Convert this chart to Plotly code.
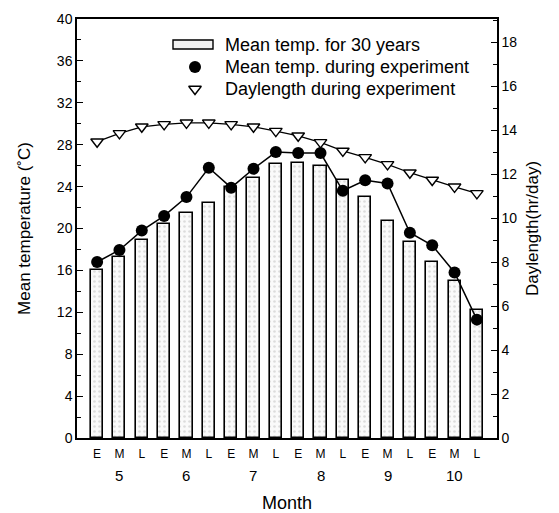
import plotly.graph_objects as go

periods = ["E", "M", "L"] * 6
months = ["5", "6", "7", "8", "9", "10"]
mean30 = [16.0, 17.3, 18.9, 20.4, 21.5, 22.4, 24.0, 24.85, 26.2, 26.3, 26.0, 24.6,
          23.0, 20.75, 18.75, 16.8, 15.0, 12.2]
mean_exp = [16.8, 17.95, 19.8, 21.2, 23.0, 25.8, 23.9, 25.7, 27.3, 27.2, 27.2, 23.6,
            24.6, 24.3, 19.6, 18.4, 15.8, 11.3]
daylen = [13.47, 13.85, 14.15, 14.26, 14.33, 14.33, 14.26, 14.15, 13.95, 13.74, 13.44,
          13.05, 12.76, 12.44, 12.06, 11.73, 11.42, 11.12]
legend_labels = ["Mean temp. for 30 years", "Mean temp. during experiment",
                 "Daylength during experiment"]

idx = list(range(len(periods)))
FONT = "Liberation Sans, Arial, sans-serif"

# page has an 8px body margin: plot area target is x 77..497, y 19..438 on screen
OFF = 8
L, T, R, B = 77 - OFF, 19 - OFF, 62, 75
W, H = 559 - OFF, 513 - OFF


def px(x):
    return (x - 77) / 420


def py(y):
    return (438 - y) / 419


fig = go.Figure()
fig.add_trace(go.Bar(
    x=idx, y=mean30, width=0.54,
    marker=dict(color="white", line=dict(color="black", width=1.6),
                pattern=dict(shape=".", fgcolor="#bdbdbd", bgcolor="#fafafa", size=5, solidity=0.22)),
    showlegend=False))
fig.add_trace(go.Scatter(
    x=idx, y=mean_exp, mode="lines+markers",
    line=dict(color="black", width=1.5),
    marker=dict(symbol="circle", size=12, color="black"),
    showlegend=False))
fig.add_trace(go.Scatter(
    x=idx, y=daylen, mode="lines+markers", yaxis="y2",
    line=dict(color="black", width=1.3),
    marker=dict(symbol="triangle-down", size=11, color="white", line=dict(color="black", width=1.4)),
    showlegend=False))

# custom legend symbols on a hidden overlay axis (0..1 = plot area)
fig.add_trace(go.Scatter(x=[px(195)], y=[py(67)], xaxis="x3", yaxis="y3",
                         mode="markers", marker=dict(symbol="circle", size=12, color="black"),
                         showlegend=False, hoverinfo="skip"))
fig.add_trace(go.Scatter(x=[px(195)], y=[py(89)], xaxis="x3", yaxis="y3",
                         mode="markers",
                         marker=dict(symbol="triangle-down", size=11, color="white",
                                     line=dict(color="black", width=1.4)),
                         showlegend=False, hoverinfo="skip"))

fig.add_shape(type="rect", xref="paper", yref="paper",
              x0=px(173), x1=px(213), y0=py(49), y1=py(40),
              line=dict(color="black", width=1.4), fillcolor="#f2f2f2")

for lab, yy in zip(legend_labels, [45, 67, 89]):
    fig.add_annotation(x=px(223), y=py(yy), xref="paper", yref="paper",
                       text=lab, showarrow=False, xanchor="left", yanchor="middle",
                       font=dict(size=18, color="black", family=FONT))

# month labels under the M ticks
for k, m in enumerate(months):
    fig.add_annotation(x=3 * k + 1, y=py(476), xref="x", yref="paper", text=m,
                       showarrow=False, yanchor="middle",
                       font=dict(size=15, color="black", family=FONT))

fig.update_layout(
    width=W, height=H,
    margin=dict(l=L, r=R, t=T, b=B, autoexpand=False),
    paper_bgcolor="white", plot_bgcolor="white",
    font=dict(family=FONT, color="black", size=14),
    bargap=0,
    xaxis=dict(range=[-0.9, 17.9], tickvals=idx, ticktext=periods, ticks="",
               ticklabelstandoff=4,
               showline=True, linecolor="black", linewidth=1.5, mirror=True,
               showgrid=False, zeroline=False, tickfont=dict(size=12),
               title=dict(text="Month", font=dict(size=18), standoff=38)),
    xaxis2=dict(overlaying="x", side="top", range=[-0.9, 17.9], tickvals=idx,
                showticklabels=False, ticks="inside", ticklen=5, tickcolor="black",
                showgrid=False, zeroline=False, showline=False, matches="x"),
    yaxis=dict(range=[0, 40], dtick=4, tick0=0, ticks="inside", ticklen=6, tickcolor="black",
               minor=dict(ticks="inside", dtick=2, ticklen=4, tickcolor="black"),
               showline=True, linecolor="black", linewidth=1.5, showgrid=False, zeroline=False,
               tickfont=dict(size=14),
               title=dict(text="Mean temperature (˚C)", font=dict(size=17), standoff=22)),
    yaxis2=dict(overlaying="y", side="right", range=[0, 19.05],
                tickvals=list(range(0, 20, 2)),
                ticks="inside", ticklen=6, tickcolor="black",
                minor=dict(ticks="inside", dtick=1, ticklen=4, tickcolor="black"),
                showline=True, linecolor="black", linewidth=1.5, showgrid=False, zeroline=False,
                tickfont=dict(size=14),
                title=dict(text="Daylength(hr/day)", font=dict(size=17), standoff=10)),
    xaxis3=dict(overlaying="x", range=[0, 1], visible=False),
    yaxis3=dict(overlaying="y", range=[0, 1], visible=False),
)

fig.write_html("out.html")
